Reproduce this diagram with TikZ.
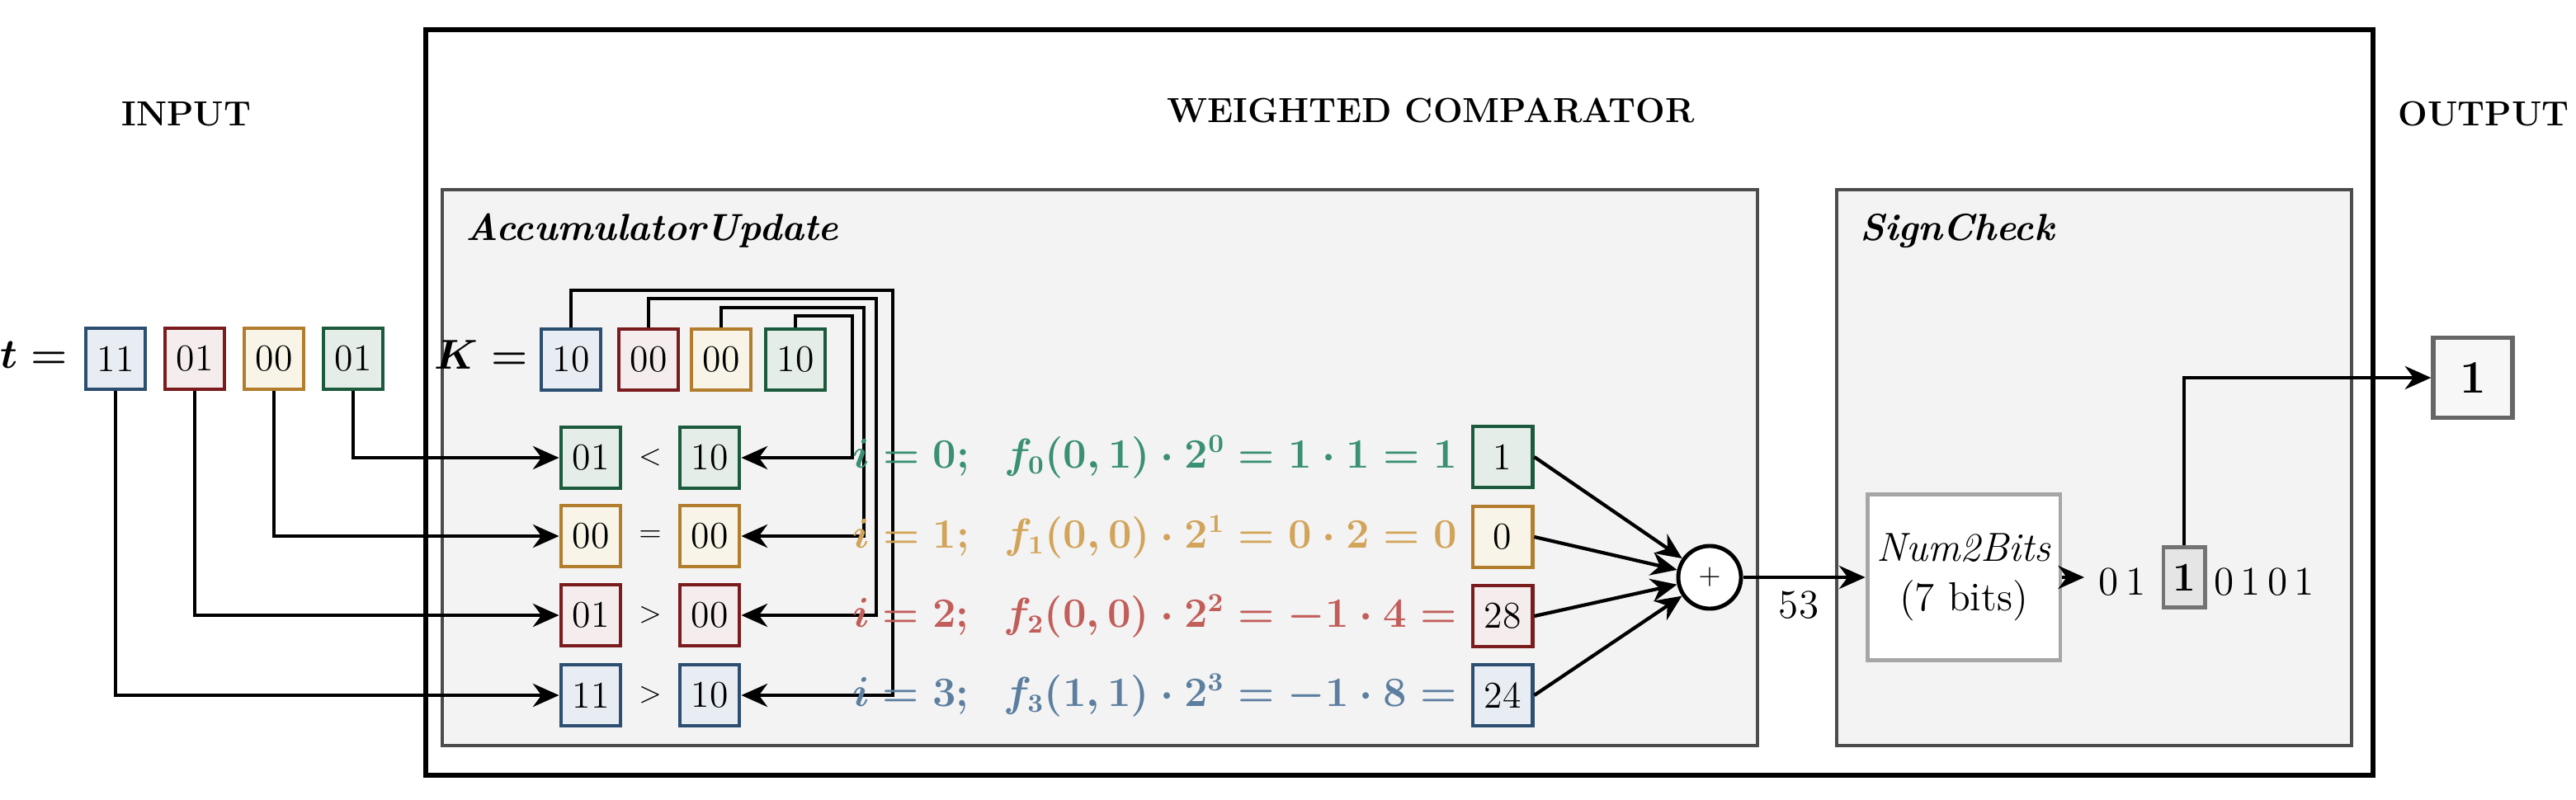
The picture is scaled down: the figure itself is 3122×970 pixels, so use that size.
\documentclass[tikz,border=0pt]{standalone}
\usepackage{amsmath,bm}
\usetikzlibrary{arrows.meta}
\definecolor{gB}{HTML}{1B5A3C}\definecolor{gF}{HTML}{E4EDE8}
\definecolor{yB}{HTML}{B27D2C}\definecolor{yF}{HTML}{F8F5E8}
\definecolor{rB}{HTML}{7A1C1E}\definecolor{rF}{HTML}{F5EDED}
\definecolor{bB}{HTML}{2C4E70}\definecolor{bF}{HTML}{E8EDF4}
\definecolor{gT}{HTML}{3A9072}\definecolor{yT}{HTML}{D2A45A}
\definecolor{rT}{HTML}{C25E5A}\definecolor{bT}{HTML}{5C7FA0}
\definecolor{panel}{HTML}{F3F3F3}
\tikzset{
  bx/.style={draw=#1B,fill=#1F,line width=1.4pt,minimum width=0.72cm,minimum height=0.74cm,inner sep=0pt,font=\fontsize{13}{13}\selectfont},
  wire/.style={line width=1.2pt},
  arr/.style={line width=1.2pt,-{Stealth[length=9pt,width=8pt]}},
  ttl/.style={font=\fontsize{12}{12}\selectfont\bfseries},
  eq/.style={anchor=east,font=\fontsize{13.5}{13.5}\selectfont\boldmath},
  panelbox/.style={draw=black!70,fill=panel,line width=1.2pt}
}
\begin{document}
\begin{tikzpicture}[x=0.01cm,y=-0.01cm]
\useasboundingbox (0,0) rectangle (3122,970);
\draw[line width=1.5pt] (516,36) rectangle (2876,940);
\draw[panelbox] (536,230) rectangle (2130,904);
\draw[panelbox] (2226,230) rectangle (2850,904);
\node[ttl] (tin) at (226,138) {INPUT};
\node[ttl] (tcmp) at (1734,134) {WEIGHTED COMPARATOR};
\node[ttl] (tout) at (3010,138) {OUTPUT};
\node[anchor=west,font=\fontsize{13}{13}\selectfont\bfseries\itshape] (lacc) at (552,280) {AccumulatorUpdate};
\node[anchor=west,font=\fontsize{13}{13}\selectfont\bfseries\itshape] (lsc) at (2242,280) {SignCheck};
% t
\node[anchor=east,font=\fontsize{15}{15}\selectfont\boldmath] (teq) at (94,430) {$t=$};
\node[bx=b] (t0) at (140,435) {11};
\node[bx=r] (t1) at (236,435) {01};
\node[bx=y] (t2) at (332,435) {00};
\node[bx=g] (t3) at (428,435) {01};
% K
\node[anchor=east,font=\fontsize{15}{15}\selectfont\boldmath] (keq) at (652,430) {$K=$};
\node[bx=b] (k0) at (692,436) {10};
\node[bx=r] (k1) at (786,436) {00};
\node[bx=y] (k2) at (874,436) {00};
\node[bx=g] (k3) at (964,436) {10};
% compare rows
\node[bx=g] (a0) at (716,555) {01}; \node (o0) at (788,555) {$<$}; \node[bx=g] (b0) at (860,555) {10};
\node[bx=y] (a1) at (716,650) {00}; \node (o1) at (788,650) {$=$}; \node[bx=y] (b1) at (860,650) {00};
\node[bx=r] (a2) at (716,746) {01}; \node (o2) at (788,746) {$>$}; \node[bx=r] (b2) at (860,746) {00};
\node[bx=b] (a3) at (716,843) {11}; \node (o3) at (788,843) {$>$}; \node[bx=b] (b3) at (860,843) {10};
\draw[arr] (t3.south) |- (a0.west);
\draw[arr] (t2.south) |- (a1.west);
\draw[arr] (t1.south) |- (a2.west);
\draw[arr] (t0.south) |- (a3.west);
\draw[arr] (k3.north) |- (1033,383) |- (b0.east);
\draw[arr] (k2.north) |- (1047,373) |- (b1.east);
\draw[arr] (k1.north) |- (1062,362) |- (b2.east);
\draw[arr] (k0.north) |- (1082,352) |- (b3.east);
% equations
\node[eq,text=gT] (e0) at (1778,554) {$i=0;\;\; f_0(0,1)\cdot 2^0=1\cdot 1=1$};
\node[eq,text=yT] (e1) at (1778,651) {$i=1;\;\; f_1(0,0)\cdot 2^1=0\cdot 2=0$};
\node[eq,text=rT] (e2) at (1778,747) {$i=2;\;\; f_2(0,0)\cdot 2^2=-1\cdot 4=$};
\node[eq,text=bT] (e3) at (1778,843) {$i=3;\;\; f_3(1,1)\cdot 2^3=-1\cdot 8=$};
\node[bx=g] (r0) at (1821,554) {1};
\node[bx=y] (r1) at (1821,651) {0};
\node[bx=r] (r2) at (1821,747) {28};
\node[bx=b] (r3) at (1821,843) {24};
\node[draw,circle,fill=white,line width=1.4pt,minimum size=0.76cm,inner sep=0pt] (sum) at (2072,700) {$+$};
\draw[arr] (r0.east) -- (sum);
\draw[arr] (r1.east) -- (sum);
\draw[arr] (r2.east) -- (sum);
\draw[arr] (r3.east) -- (sum);
% sign check
\node[draw=black!35,fill=white,line width=1.4pt,minimum width=2.27cm,minimum height=2cm,align=center,font=\fontsize{14}{17}\selectfont] (n2b) at (2380,700) {\textit{Num2Bits}\\(7 bits)};
\draw[arr] (sum) -- (n2b.west);
\node[font=\fontsize{14}{14}\selectfont] (v53) at (2180,734) {53};
\node[font=\fontsize{14}{14}\selectfont] (bl) at (2572,706) {0\,1};
\node[draw=black!55,fill=black!10,line width=1.4pt,minimum width=0.5cm,minimum height=0.73cm,inner sep=0pt,font=\fontsize{14}{14}\selectfont\bfseries] (bit) at (2647,700) {1};
\node[font=\fontsize{14}{14}\selectfont] (br) at (2744,706) {0\,1\,0\,1};
\coordinate (n2e) at (2526,700);
\draw[arr] (n2b.east) -- (n2e);
\node[draw=black!60,fill=black!3,line width=1.5pt,minimum width=0.96cm,minimum height=0.97cm,inner sep=0pt,font=\fontsize{16}{16}\selectfont\bfseries] (out) at (2997,458) {1};
\draw[arr] (bit.north) |- (out.west);
\end{tikzpicture}
\end{document}
